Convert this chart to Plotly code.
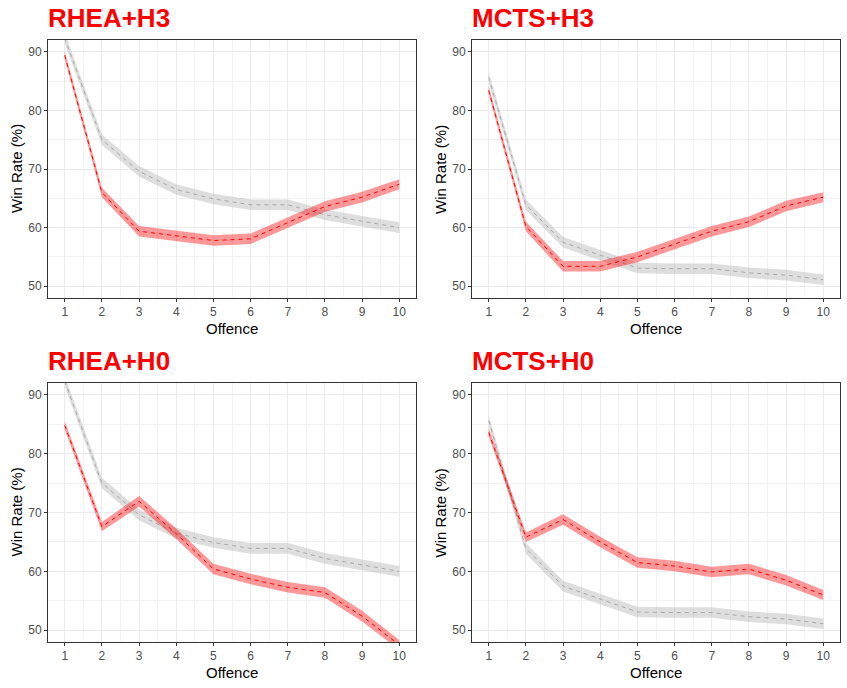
import plotly.graph_objects as go
from plotly.subplots import make_subplots

offence = [1, 2, 3, 4, 5, 6, 7, 8, 9, 10]

# baselines (grey) shared by both heuristics of an agent
rhea_base = [92.3, 75.0, 69.6, 66.5, 64.9, 63.9, 63.9, 62.2, 61.1, 60.0]
rhea_base_ci = [0.9, 0.9, 0.9, 0.9, 0.9, 0.9, 0.9, 0.9, 0.9, 0.9]
mcts_base = [85.6, 63.9, 57.5, 55.3, 53.1, 53.0, 53.0, 52.3, 51.9, 51.1]
mcts_base_ci = [0.9, 0.9, 0.9, 0.9, 0.9, 0.9, 0.9, 0.9, 0.9, 0.9]

# red series per panel
rhea_h3 = [89.4, 66.0, 59.4, 58.6, 57.8, 58.1, 60.9, 63.6, 65.2, 67.4]
rhea_h3_ci = [0.7, 0.8, 0.9, 0.9, 0.9, 0.9, 0.9, 0.9, 0.9, 0.85]
mcts_h3 = [83.4, 60.2, 53.4, 53.4, 55.0, 57.2, 59.4, 61.0, 63.7, 65.2]
mcts_h3_ci = [0.7, 0.8, 0.9, 0.9, 0.9, 0.9, 0.9, 0.9, 0.9, 0.85]
rhea_h0 = [84.8, 67.6, 71.9, 66.4, 60.4, 58.7, 57.3, 56.4, 52.4, 47.5]
rhea_h0_ci = [0.7, 0.8, 0.9, 0.9, 0.9, 0.9, 0.9, 0.9, 0.9, 0.85]
mcts_h0 = [83.6, 65.8, 68.8, 65.0, 61.5, 60.9, 59.9, 60.4, 58.5, 56.0]
mcts_h0_ci = [0.7, 0.8, 0.9, 0.9, 0.9, 0.9, 0.9, 0.9, 0.9, 0.85]

panels = [
    ("RHEA+H3", rhea_h3, rhea_h3_ci, rhea_base, rhea_base_ci),
    ("MCTS+H3", mcts_h3, mcts_h3_ci, mcts_base, mcts_base_ci),
    ("RHEA+H0", rhea_h0, rhea_h0_ci, rhea_base, rhea_base_ci),
    ("MCTS+H0", mcts_h0, mcts_h0_ci, mcts_base, mcts_base_ci),
]

W, H = 847, 688
fig = make_subplots(rows=2, cols=2)

# panel boxes in pixels (left, right, top, bottom)
boxes = [(48, 416, 40, 298), (472, 840, 40, 298),
         (48, 416, 383, 642), (472, 840, 383, 642)]


def band(row, col, y, ci, fill):
    lo = [v - c for v, c in zip(y, ci)]
    hi = [v + c for v, c in zip(y, ci)]
    fig.add_trace(go.Scatter(x=offence, y=lo, mode="lines", line=dict(width=0),
                             showlegend=False, hoverinfo="skip"), row=row, col=col)
    fig.add_trace(go.Scatter(x=offence, y=hi, mode="lines", line=dict(width=0),
                             fill="tonexty", fillcolor=fill,
                             showlegend=False, hoverinfo="skip"), row=row, col=col)


for i, (name, red, red_ci, base, base_ci) in enumerate(panels):
    r, c = i // 2 + 1, i % 2 + 1
    band(r, c, base, base_ci, "rgba(190,190,190,0.5)")
    fig.add_trace(go.Scatter(x=offence, y=base, mode="lines",
                             line=dict(color="#A9A9A9", width=1, dash="4px,4px"),
                             showlegend=False), row=r, col=c)
    band(r, c, red, red_ci, "rgba(255,0,0,0.4)")
    fig.add_trace(go.Scatter(x=offence, y=red, mode="lines",
                             line=dict(color="red", width=1, dash="4px,4px"),
                             showlegend=False), row=r, col=c)

    left, right, top, bottom = boxes[i]
    xa = "xaxis" if i == 0 else f"xaxis{i + 1}"
    ya = "yaxis" if i == 0 else f"yaxis{i + 1}"
    fig.layout[xa].update(domain=[left / W, right / W])
    fig.layout[ya].update(domain=[1 - bottom / H, 1 - top / H])

    fig.add_annotation(text=f"<b>{name}</b>", xref="paper", yref="paper",
                       x=(left - 2) / W, y=1 - (top - 22) / H,
                       xanchor="left", yanchor="middle", showarrow=False,
                       font=dict(size=26, color="red", family="Liberation Sans"))
    fig.add_annotation(text="Offence", xref="paper", yref="paper",
                       x=(left + right) / 2 / W, y=1 - (bottom + 30) / H,
                       xanchor="center", yanchor="middle", showarrow=False,
                       font=dict(size=15, color="black", family="Liberation Sans"))
    fig.add_annotation(text="Win Rate (%)", xref="paper", yref="paper",
                       x=(left - 32) / W, y=1 - (top + bottom) / 2 / H,
                       xanchor="center", yanchor="middle", textangle=-90,
                       showarrow=False,
                       font=dict(size=15, color="black", family="Liberation Sans"))

fig.update_xaxes(range=[0.55, 10.45], tickmode="linear", tick0=1, dtick=1,
                 showgrid=True, gridcolor="#EBEBEB", gridwidth=1,
                 minor=dict(tick0=0.5, dtick=1, showgrid=True, gridcolor="#F2F2F2", gridwidth=1),
                 zeroline=False, showline=True, linecolor="#333333", linewidth=1, mirror=True,
                 ticks="outside", ticklen=3, tickcolor="#333333",
                 tickfont=dict(size=12, color="#4D4D4D", family="Liberation Sans"))
fig.update_yaxes(range=[48, 92], tickmode="array", tickvals=[50, 60, 70, 80, 90],
                 showgrid=True, gridcolor="#EBEBEB", gridwidth=1,
                 minor=dict(tickmode="array", tickvals=[55, 65, 75, 85], showgrid=True,
                            gridcolor="#F2F2F2", gridwidth=1),
                 zeroline=False, showline=True, linecolor="#333333", linewidth=1, mirror=True,
                 ticks="outside", ticklen=3, tickcolor="#333333",
                 tickfont=dict(size=12, color="#4D4D4D", family="Liberation Sans"))

fig.update_layout(width=W, height=H, margin=dict(l=0, r=0, t=0, b=0),
                  plot_bgcolor="white", paper_bgcolor="white", showlegend=False)

# page body has a default margin; drop it so the figure sits at the window origin
fig.write_html("out.html", config={"displayModeBar": False},
               post_script="document.body.style.margin='0px';")
